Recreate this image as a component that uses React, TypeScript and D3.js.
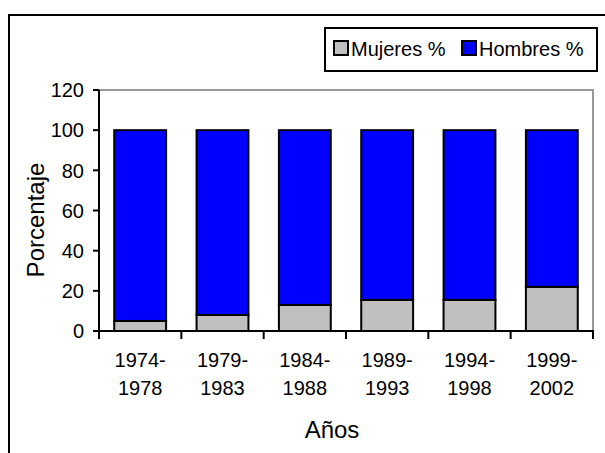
import React from "react";
import * as d3 from "d3";

const categories = ["1974-1978", "1979-1983", "1984-1988", "1989-1993", "1994-1998", "1999-2002"];
const mujeres = [5, 8, 13, 15.5, 15.5, 22];
const hombres = [95, 92, 87, 84.5, 84.5, 78];
const seriesNames = ["Mujeres %", "Hombres %"];
const seriesColors = ["#C0C0C0", "#0000FF"];
const yTicks = [0, 20, 40, 60, 80, 100, 120];

const W = 605;
const H = 453;
const plot = { left: 99, right: 593, top: 90, bottom: 331 };
const FONT = "'Liberation Sans', Arial, sans-serif";
const FS = 20;
const TFS = 24;

export default function App() {
  const x = d3.scaleBand<string>().domain(categories).range([plot.left, plot.right]).paddingInner(0.37).paddingOuter(0.185);
  const xb = d3.scaleBand<string>().domain(categories).range([plot.left, plot.right]);
  const y = d3.scaleLinear().domain([0, 120]).range([plot.bottom, plot.top]);

  const rows = categories.map((c, i) => ({ cat: c, m: mujeres[i], h: hombres[i] }));
  const stack = d3.stack<any>().keys(["m", "h"])(rows);

  const tickEdges = categories.map((c) => xb(c)!).concat([plot.right]);

  return (
    <svg width={W} height={H} style={{ position: "absolute", left: 0, top: 0, background: "#fff" }} fontFamily={FONT}>
      <rect x={0} y={0} width={W} height={H} fill="#fff" />
      <rect x={9} y={15} width={800} height={600} fill="none" stroke="#000" strokeWidth={2} />
      <rect x={plot.left} y={plot.top} width={plot.right - plot.left} height={plot.bottom - plot.top} fill="none" stroke="#999" strokeWidth={2} />
      {stack.map((s, si) =>
        s.map((d, i) => (
          <rect
            key={si + "-" + i}
            x={x(categories[i])!}
            y={y(d[1])}
            width={x.bandwidth()}
            height={y(d[0]) - y(d[1])}
            fill={seriesColors[si]}
            stroke="#000"
            strokeWidth={2}
          />
        ))
      )}
      <line x1={plot.left} x2={plot.left} y1={plot.top} y2={plot.bottom} stroke="#000" strokeWidth={2} />
      {yTicks.map((t) => (
        <g key={t}>
          <line x1={plot.left - 6} x2={plot.left} y1={y(t)} y2={y(t)} stroke="#000" strokeWidth={2} />
          <text x={84} y={y(t)} dy="0.36em" textAnchor="end" fontSize={FS} fill="#000">
            {t}
          </text>
        </g>
      ))}
      <line x1={plot.left - 6} x2={plot.right + 1} y1={plot.bottom} y2={plot.bottom} stroke="#000" strokeWidth={2} />
      {tickEdges.map((tx, i) => (
        <line key={i} x1={tx} x2={tx} y1={plot.bottom} y2={plot.bottom + 8} stroke="#000" strokeWidth={2} />
      ))}
      {categories.map((c) => {
        const [a, b] = c.split("-");
        const cx = xb(c)! + xb.bandwidth() / 2;
        return (
          <text key={c} x={cx} textAnchor="middle" fontSize={FS} fill="#000">
            <tspan x={cx} y={367}>{a + "-"}</tspan>
            <tspan x={cx} y={395}>{b}</tspan>
          </text>
        );
      })}
      <text x={332} y={438} textAnchor="middle" fontSize={TFS} fill="#000">
        Años
      </text>
      <text transform={`translate(44,220) rotate(-90)`} textAnchor="middle" fontSize={TFS} fill="#000">
        Porcentaje
      </text>
      <rect x={325} y={28} width={272} height={43} fill="#fff" stroke="#000" strokeWidth={2} />
      {seriesNames.map((n, i) => {
        const lx = i === 0 ? 334 : 462;
        return (
          <g key={n}>
            <rect x={lx} y={41} width={14} height={14} fill={seriesColors[i]} stroke="#000" strokeWidth={2} />
            <text x={lx + 17} y={56} fontSize={FS} fill="#000">
              {n}
            </text>
          </g>
        );
      })}
    </svg>
  );
}
